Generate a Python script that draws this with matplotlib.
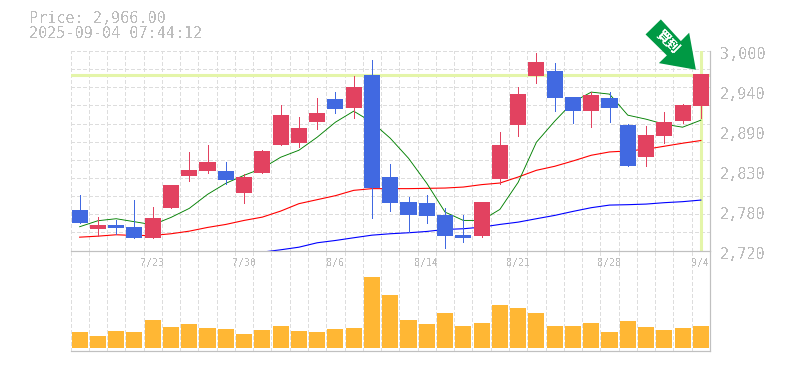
import numpy as np
import matplotlib
matplotlib.use("Agg")
import matplotlib.pyplot as plt
from matplotlib.patches import Polygon
from matplotlib.transforms import Affine2D

plt.rcParams['font.family'] = ['DejaVu Sans Mono', 'Noto Sans CJK JP']
plt.rcParams['text.antialiased'] = False

W, H = 785, 370
P_TOP, P_BOT = 3000.0, 2720.0

def p(y):
    return P_TOP - (np.array(y, dtype=float) - 51.0) * (P_TOP - P_BOT) / 199.0

# prices
highs_y  = [195,217,220,200,207,185,152,145,162,174,150,105,117,98,92,76,60,164,197,195,208,215,202,132,87,53,63,97,92,92,124,126,112,104,74]
lows_y   = [223,236,234,238,238,208,181,173,184,203,173,145,147,129,113,118,218,211,232,223,248,242,237,184,136,83,111,123,127,122,166,166,143,123,118]
top_y    = [210,225,225,227,218,185,170,162,171,177,151,115,128,113,99,87,75,177,202,203,215,235,202,145,94,62,71,97,95,98,125,135,122,105,74]
bot_y    = [223,229,228,238,238,208,176,171,180,193,173,145,143,122,109,108,188,203,215,216,236,238,236,179,125,76,98,111,111,108,166,157,136,121,106]
up       = [0,1,0,0,1,1,1,1,0,1,1,1,1,1,0,1,0,0,0,0,0,0,1,1,1,1,0,0,1,0,0,1,1,1,1]
ma_green_y = [226.3,220.3,218.3,221.3,224.3,217,208,194,183,175,168,157,150,137,122,111,122,138,158,183,211.7,220,220,209,182,142,121,102,92,94,115,119,124,127,120]
ma_red_y   = [236.7,235.7,234.3,235,235,233.3,230.7,227,224,220,216.7,210.7,203.3,199.3,195.3,190,188.3,188.3,188.3,188,187.7,186.7,184.3,182.7,176.7,170,166,160.7,155,151.7,150.7,149,146,143,140.3]
ma_blue_y  = [np.nan]*10 + [251.6,249.3,246.7,242.3,240,237.3,234.7,233.3,232.3,231,229,228.3,226.7,224,221.7,218.3,215,211,207.3,204.7,204.3,203.7,202.3,201.3,199.7]
volume = [16,12,17,16,28,21,24,20,19,14,18,22,17,16,19,20,71,53,28,24,35,22,25,43,40,35,22,22,25,16,27,21,18,20,22]
dates = {4:'7/23', 9:'7/30', 14:'8/6', 19:'8/14', 24:'8/21', 29:'8/28', 34:'9/4'}
last_price = 2966.0
title_lines = ['Price: 2,966.00', '2025-09-04 07:44:12']
y_tick_values = [3000, 2944, 2888, 2832, 2776, 2720]
y_tick_labels = ['3,000', '2,940', '2,890', '2,830', '2,780', '2,720']

RED, BLUE, AMBER = '#E24260', '#4169E1', '#FFB734'
GRID, AXIS, TXT = '#DDDDDD', '#C0C0C0', '#BDBDBD'
MARK = '#E4F5A9'
PX = 0.72

n = len(up)
x = np.arange(n)

fig = plt.figure(figsize=(W/100, H/100), dpi=100, facecolor='white')
L, R = 70.5, 710.0
def axes_px(top, bot):
    return fig.add_axes([L/W, 1-bot/H, (R-L)/W, (bot-top)/H])
ax = axes_px(51, 250.5)
av = axes_px(250.5, 350.5)

for a in (ax, av):
    a.set_xlim(-0.5, n-0.5)
    a.set_xticks(np.arange(-0.5, n, 1))
    a.tick_params(length=0, labelbottom=False, labelleft=False)
    a.grid(axis='x', color=GRID, lw=PX, ls=(0, (3, 2.5)), zorder=0, antialiased=False)
    a.set_axisbelow(True)
    a.patch.set_alpha(0)
    for s in a.spines.values():
        s.set_visible(False)
    for s in ('right', 'bottom'):
        a.spines[s].set_visible(True)
        a.spines[s].set_color(AXIS)
        a.spines[s].set_linewidth(PX * 1.2)

ax.set_ylim(P_BOT, P_TOP)
ax.set_yticks(np.linspace(P_BOT, P_TOP, 12))
ax.grid(axis='y', color=GRID, lw=PX, ls=(0, (3, 2.5)), zorder=0, antialiased=False)

ax.axhline(last_price, color=MARK, lw=2.2, zorder=1)
ax.plot([n-1, n-1], [P_BOT+2, P_TOP], color=MARK, lw=2.2, zorder=1)

ax.plot(x, p(ma_blue_y), color='#0000FF', lw=0.8, zorder=2, antialiased=True)
ax.plot(x, p(ma_red_y), color='#FF0000', lw=0.8, zorder=2, antialiased=True)
ax.plot(x, p(ma_green_y), color='#008000', lw=0.65, zorder=2, antialiased=True)

for i in range(n):
    c = RED if up[i] else BLUE
    ax.vlines(x[i], p(lows_y[i]), p(highs_y[i]), color=c, lw=PX, zorder=3, antialiased=False)
    ax.bar(x[i], p(top_y[i]) - p(bot_y[i]), bottom=p(bot_y[i]), width=0.88, color=c, zorder=4)

av.bar(x, volume, width=0.88, color=AMBER, zorder=3)
av.set_ylim(-2.4, 97.6)
av.set_yticks([])

for i, lab in dates.items():
    av.annotate(lab, (i, 1), xycoords=('data', 'axes fraction'), xytext=(0, -9), textcoords='offset points',
                ha='center', va='center', fontsize=7.2, color=TXT)
for v, lab in zip(y_tick_values, y_tick_labels):
    ax.annotate(lab, (1, v), xycoords=('axes fraction', 'data'), xytext=(7, -2.8), textcoords='offset points',
                ha='left', va='center', fontsize=10.9, color=TXT)
fig.text(29/W, 1-18.5/H, title_lines[0], fontsize=10.9, color=TXT, va='center', ha='left')
fig.text(29/W, 1-33.5/H, title_lines[1], fontsize=10.9, color=TXT, va='center', ha='left')

# arrow pointing at the last price, shape given relative to its tip
fig.canvas.draw()
tx, ty = ax.transData.transform((n-1, last_price))
tx, ty = tx - 5, ty + 5.5
arrow_shape = [(-35,50.3),(-50.3,35.3),(-29,14.3),(-37,6.6),(0,0),(-6.7,37),(-15,28.6)]
fig.add_artist(Polygon(arrow_shape, closed=True, facecolor='#009944', edgecolor='none',
                       transform=Affine2D().translate(tx, ty), zorder=6))
fig.text((tx-28.3)/W, (ty+27.8)/H, '買到', rotation=-45, rotation_mode='anchor', fontsize=9.5, fontweight='bold',
         color='white', ha='center', va='center', family=['Noto Sans CJK JP', 'DejaVu Sans'], zorder=7)

fig.savefig('out.png', dpi=100)
